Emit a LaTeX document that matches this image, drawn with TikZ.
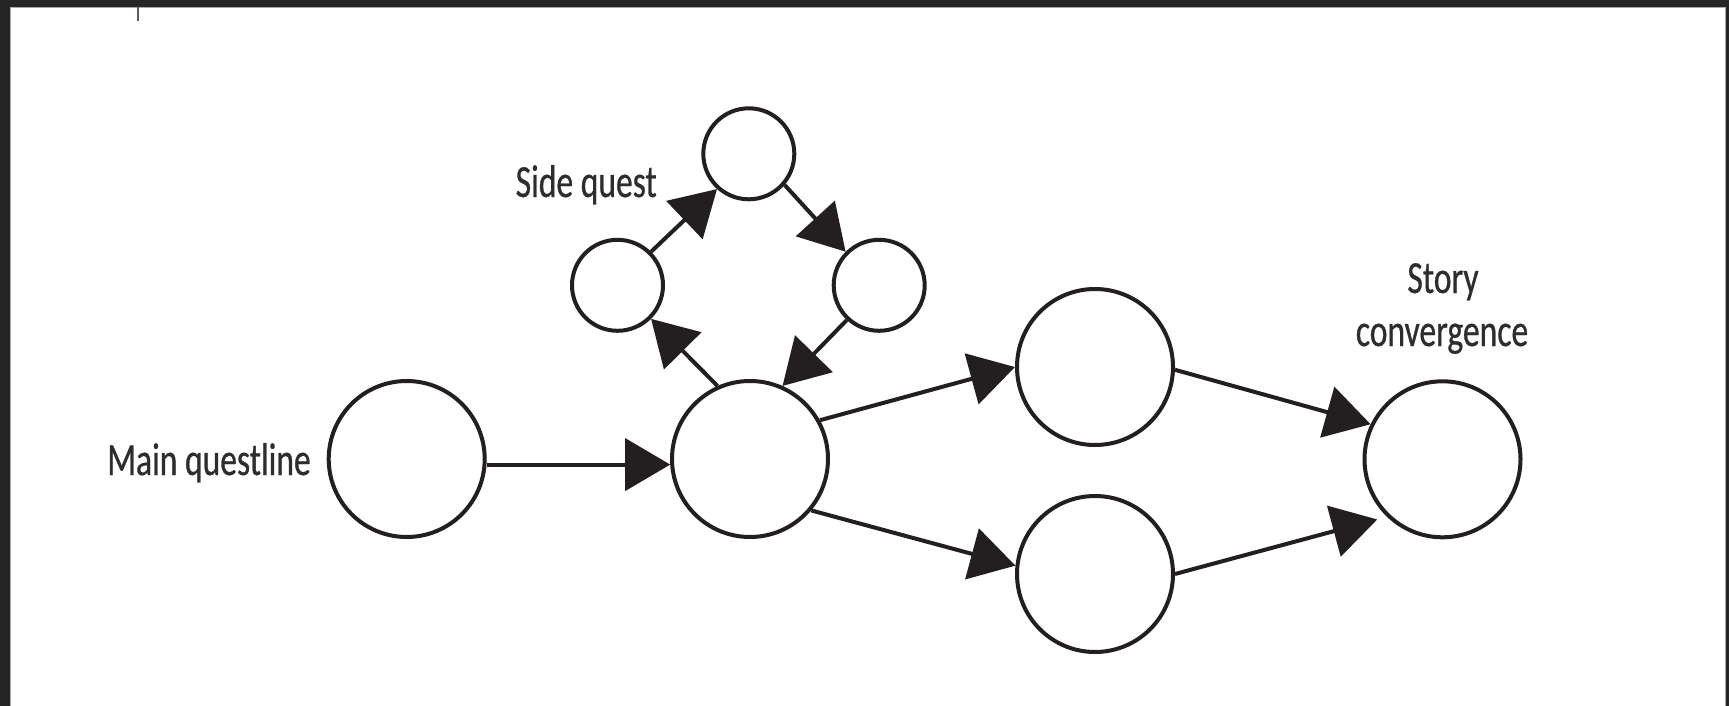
\documentclass[tikz,border=0pt]{standalone}
\usepackage{fontspec}
\setmainfont{Carlito}[FakeStretch=0.73,FakeBold=0.6]
\usetikzlibrary{arrows.meta}
\definecolor{ink}{HTML}{231F20}
\definecolor{textink}{HTML}{2E2C2D}
\definecolor{framedark}{HTML}{252525}
\definecolor{frameedge}{HTML}{A8A8A8}
\definecolor{caret}{HTML}{6A5656}
\begin{document}
\begin{tikzpicture}[x=1pt,y=-1pt,
  state/.style={circle,draw=ink,line width=4pt,fill=white,minimum size=156pt,inner sep=0pt},
  smallstate/.style={state,minimum size=91pt},
  flow/.style={draw=ink,line width=4pt,-{Triangle[length=45pt,width=52pt]}},
  lbl/.style={text=textink,font=\fontsize{46}{50}\selectfont,inner sep=0pt}]
  \useasboundingbox (0,0) rectangle (1729,706);
  % window frame
  \fill[white] (0,0) rectangle (1729,706);
  \fill[framedark] (0,0) rectangle (1729,7);
  \fill[framedark] (0,0) rectangle (10,706);
  \fill[framedark] (1726,0) rectangle (1729,706);
  \draw[frameedge,line width=1pt] (10.5,706) -- (10.5,7.5) -- (1725.5,7.5) -- (1725.5,706);
  \draw[caret,line width=2pt] (138,7) -- (138,21);

  % main line
  \node[state] (main)  at (406.7,459) {};
  \node[state] (mid)   at (750,459) {};
  \node[state] (up)    at (1095,367) {};
  \node[state] (low)   at (1095,574) {};
  \node[state] (story) at (1442.5,459.3) {};

  % side quest loop
  \node[smallstate] (sqL) at (617.5,285.3) {};
  \node[smallstate] (sqT) at (748.8,153.8) {};
  \node[smallstate] (sqR) at (879.2,285.3) {};

  % labels
  \node[lbl,anchor=base east] (lmain) at (311,475) {Main questline};
  \node[lbl,anchor=base east] (lside) at (657,197) {Side quest};
  \node[lbl,anchor=base] (lstory) at (1443,293) {Story};
  \node[lbl,anchor=base] (lconv) at (1442,346) {convergence};

  % connectors
  \draw[flow] (main.-4) -- (mid.184);
  \draw[flow] (mid.29) -- (up.180);
  \draw[flow] (mid.-40) -- (low.174);
  \draw[flow] (up.-2) -- (story.154);
  \draw[flow,shorten >=10pt] (low.0) -- (story.226);

  \draw[flow] (mid.114) -- (sqL.-45);
  \draw[flow] (sqL.45) -- (sqT.228);
  \draw[flow] (sqT.-41) -- (sqR.135);
  \draw[flow] (sqR.227) -- (mid.66);
\end{tikzpicture}
\end{document}
